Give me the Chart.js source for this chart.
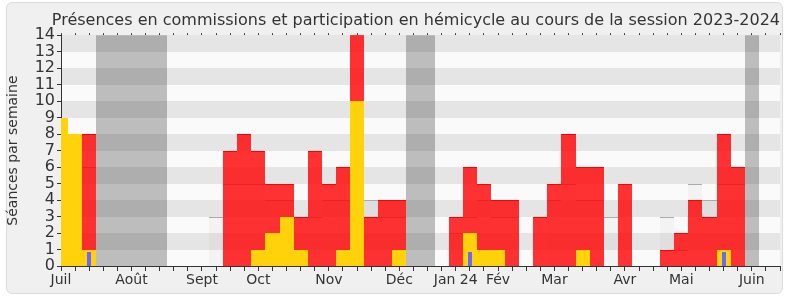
<!DOCTYPE html>
<html>
<head>
<meta charset="utf-8">
<script src="https://cdn.jsdelivr.net/npm/chart.js@4.4.0/dist/chart.umd.min.js"></script>
<style>
  body { margin: 0; background: #fff; }
  #frame { position: absolute; left: 6px; top: 2px; width: 775px; height: 290px; background: #f0f0f0; border: 1px solid #dcdcdc; border-radius: 6px; }
  #wrap { position: absolute; left: 0; top: 0; width: 790px; height: 300px; }
</style>
</head>
<body>
<div id="frame"></div>
<div id="wrap"><canvas id="chart"></canvas></div>
<script>
// one entry per week, July 2023 -> June 2024
const monthNames = ["Juil", "Août", "Sept", "Oct", "Nov", "Déc", "Jan 24", "Fév", "Mar", "Avr", "Mai", "Juin"];
const monthWeeks = [0, 5, 10, 14, 19, 24, 28, 31, 35, 40, 44, 49];

const commissions = [
  null, null, 8, null, null, null, null, null, null, null,
  null, null, 7, 8, 7, 5, 5, 3, 7, 5,
  6, 14, 3, 4, 4, null, null, null, 3, 6,
  5, 4, 4, null, 3, 5, 8, 6, 6, null,
  5, null, null, 1, 2, 4, 3, 8, 6, null,
  null, null
];
const hemicycle = [
  9, 8, 1, null, null, null, null, null, null, null,
  null, null, null, null, 1, 2, 3, 1, null, null,
  1, 10, null, null, 1, null, null, null, null, 2,
  1, 1, null, null, null, null, null, 1, null, null,
  null, null, null, null, null, null, null, 1, null, null,
  null, null
];
const presences = [
  null, null, 6, null, null, null, null, null, null, null,
  null, 3, 5, 5, 5, 4, 4, 3, 3, 4,
  4, null, 4, 3, 3, null, null, null, 2, 3,
  4, 3, 3, null, null, 4, 5, 4, 4, 3,
  null, null, null, 3, 1, 5, 4, 5, 5, null,
  null, null
];
const questions = [
  null, null, 0.85, null, null, null, null, null, null, null,
  null, null, null, null, null, null, null, null, null, null,
  null, null, null, null, null, null, null, null, null, 0.85,
  null, null, null, null, null, null, null, null, null, null,
  null, null, null, null, null, null, null, 0.85, null, null,
  null, null
];
const vacances = [
  null, null, null, 14, 14, 14, 14, 14, null, null,
  null, null, null, null, null, null, null, null, null, null,
  null, null, null, null, null, 14, 14, null, null, null,
  null, null, null, null, null, null, null, null, null, null,
  null, null, null, null, null, null, null, null, null, 14,
  null, null
];

const weekLabels = commissions.map((v, i) => {
  const m = monthWeeks.indexOf(i);
  return m >= 0 ? monthNames[m] : "";
});

const stripes = {
  id: "stripes",
  beforeDraw(chart) {
    const { ctx, chartArea, scales: { y } } = chart;
    ctx.save();
    for (let k = 0; k < 14; k++) {
      ctx.fillStyle = k % 2 ? "#e5e5e5" : "#fafafa";
      const top = Math.round(y.getPixelForValue(k + 1));
      const bottom = Math.round(y.getPixelForValue(k));
      ctx.fillRect(chartArea.left, top, chartArea.right - chartArea.left, bottom - top);
    }
    ctx.restore();
  }
};

// put bar edges on whole pixels (shared edges computed once) so translucent bars don't leave seams
const snapBars = {
  id: "snapBars",
  beforeDatasetsDraw(chart) {
    const x = chart.scales.x;
    const step = (x.right - x.left) / (weekLabels.length - 1);
    const edge = k => Math.round(x.left + (k - 0.5) * step);
    chart.data.datasets.forEach((ds, i) => {
      chart.getDatasetMeta(i).data.forEach((bar, j) => {
        let l, r;
        if (ds.barThickness) {
          const c = x.left + j * step;
          l = Math.round(c - ds.barThickness / 2);
          r = l + ds.barThickness;
        } else {
          l = edge(j);
          r = edge(j + 1);
        }
        bar.x = (l + r) / 2;
        bar.width = r - l;
        bar.y = Math.round(bar.y);
        bar.base = Math.round(bar.base);
      });
    });
  }
};

Chart.defaults.font.family = "'DejaVu Sans', sans-serif";
Chart.defaults.color = "#333";

new Chart(document.getElementById("chart"), {
  type: "bar",
  data: {
    labels: weekLabels,
    datasets: [
      { label: "Questions", data: questions, backgroundColor: "rgb(105,105,255)", barThickness: 4, order: 1 },
      { label: "Hémicycle", data: hemicycle, backgroundColor: "#ffd20c", order: 2 },
      { label: "Commissions", data: commissions, backgroundColor: "rgba(255,0,0,0.8)", borderColor: "#ff0000",
        borderWidth: { top: 1, left: 0, right: 0, bottom: 0 }, order: 3 },
      { label: "Présences", data: presences, backgroundColor: "rgba(150,150,150,0.07)", borderColor: "#aaaaaa",
        borderWidth: { top: 1, left: 0, right: 0, bottom: 0 }, order: 4 },
      { label: "Vacances", data: vacances, backgroundColor: "rgba(40,40,40,0.29)", order: 5 }
    ]
  },
  options: {
    responsive: true,
    maintainAspectRatio: false,
    animation: false,
    layout: { padding: { left: 0, right: 10, top: 0, bottom: 0 } },
    datasets: { bar: { grouped: false, barPercentage: 1, categoryPercentage: 1, clip: 0, inflateAmount: 0 } },
    plugins: {
      legend: { display: false },
      tooltip: { enabled: false },
      title: {
        display: true,
        text: "Présences en commissions et participation en hémicycle au cours de la session 2023-2024",
        align: "end",
        color: "#333",
        font: { size: 16, weight: "normal" },
        padding: { top: 11, bottom: 5 }
      }
    },
    scales: {
      x: {
        z: 1,
        offset: false,
        grid: { drawOnChartArea: false, tickLength: 5, color: "#333", offset: false },
        border: { color: "#333" },
        ticks: { autoSkip: false, maxRotation: 0, padding: 1, font: { size: 14 } },
        afterFit: s => { s.height = 34; }
      },
      xTop: {
        position: "top",
        offset: false,
        grid: { drawOnChartArea: false, tickLength: 2, color: "#333", offset: false },
        border: { display: false },
        ticks: { display: false },
        afterFit: s => { s.height = 0; }
      },
      y: {
        z: 1,
        min: 0,
        max: 14,
        ticks: { stepSize: 1, autoSkip: false, padding: 2, font: { size: 16 } },
        grid: { drawOnChartArea: false, tickLength: 4, color: "#333" },
        border: { color: "#333" },
        title: { display: true, text: "Séances par semaine", font: { size: 14 }, padding: { top: 5, bottom: 0 } },
        afterFit: s => { s.width = 61; }
      }
    }
  },
  plugins: [stripes, snapBars]
});
</script>
</body>
</html>
